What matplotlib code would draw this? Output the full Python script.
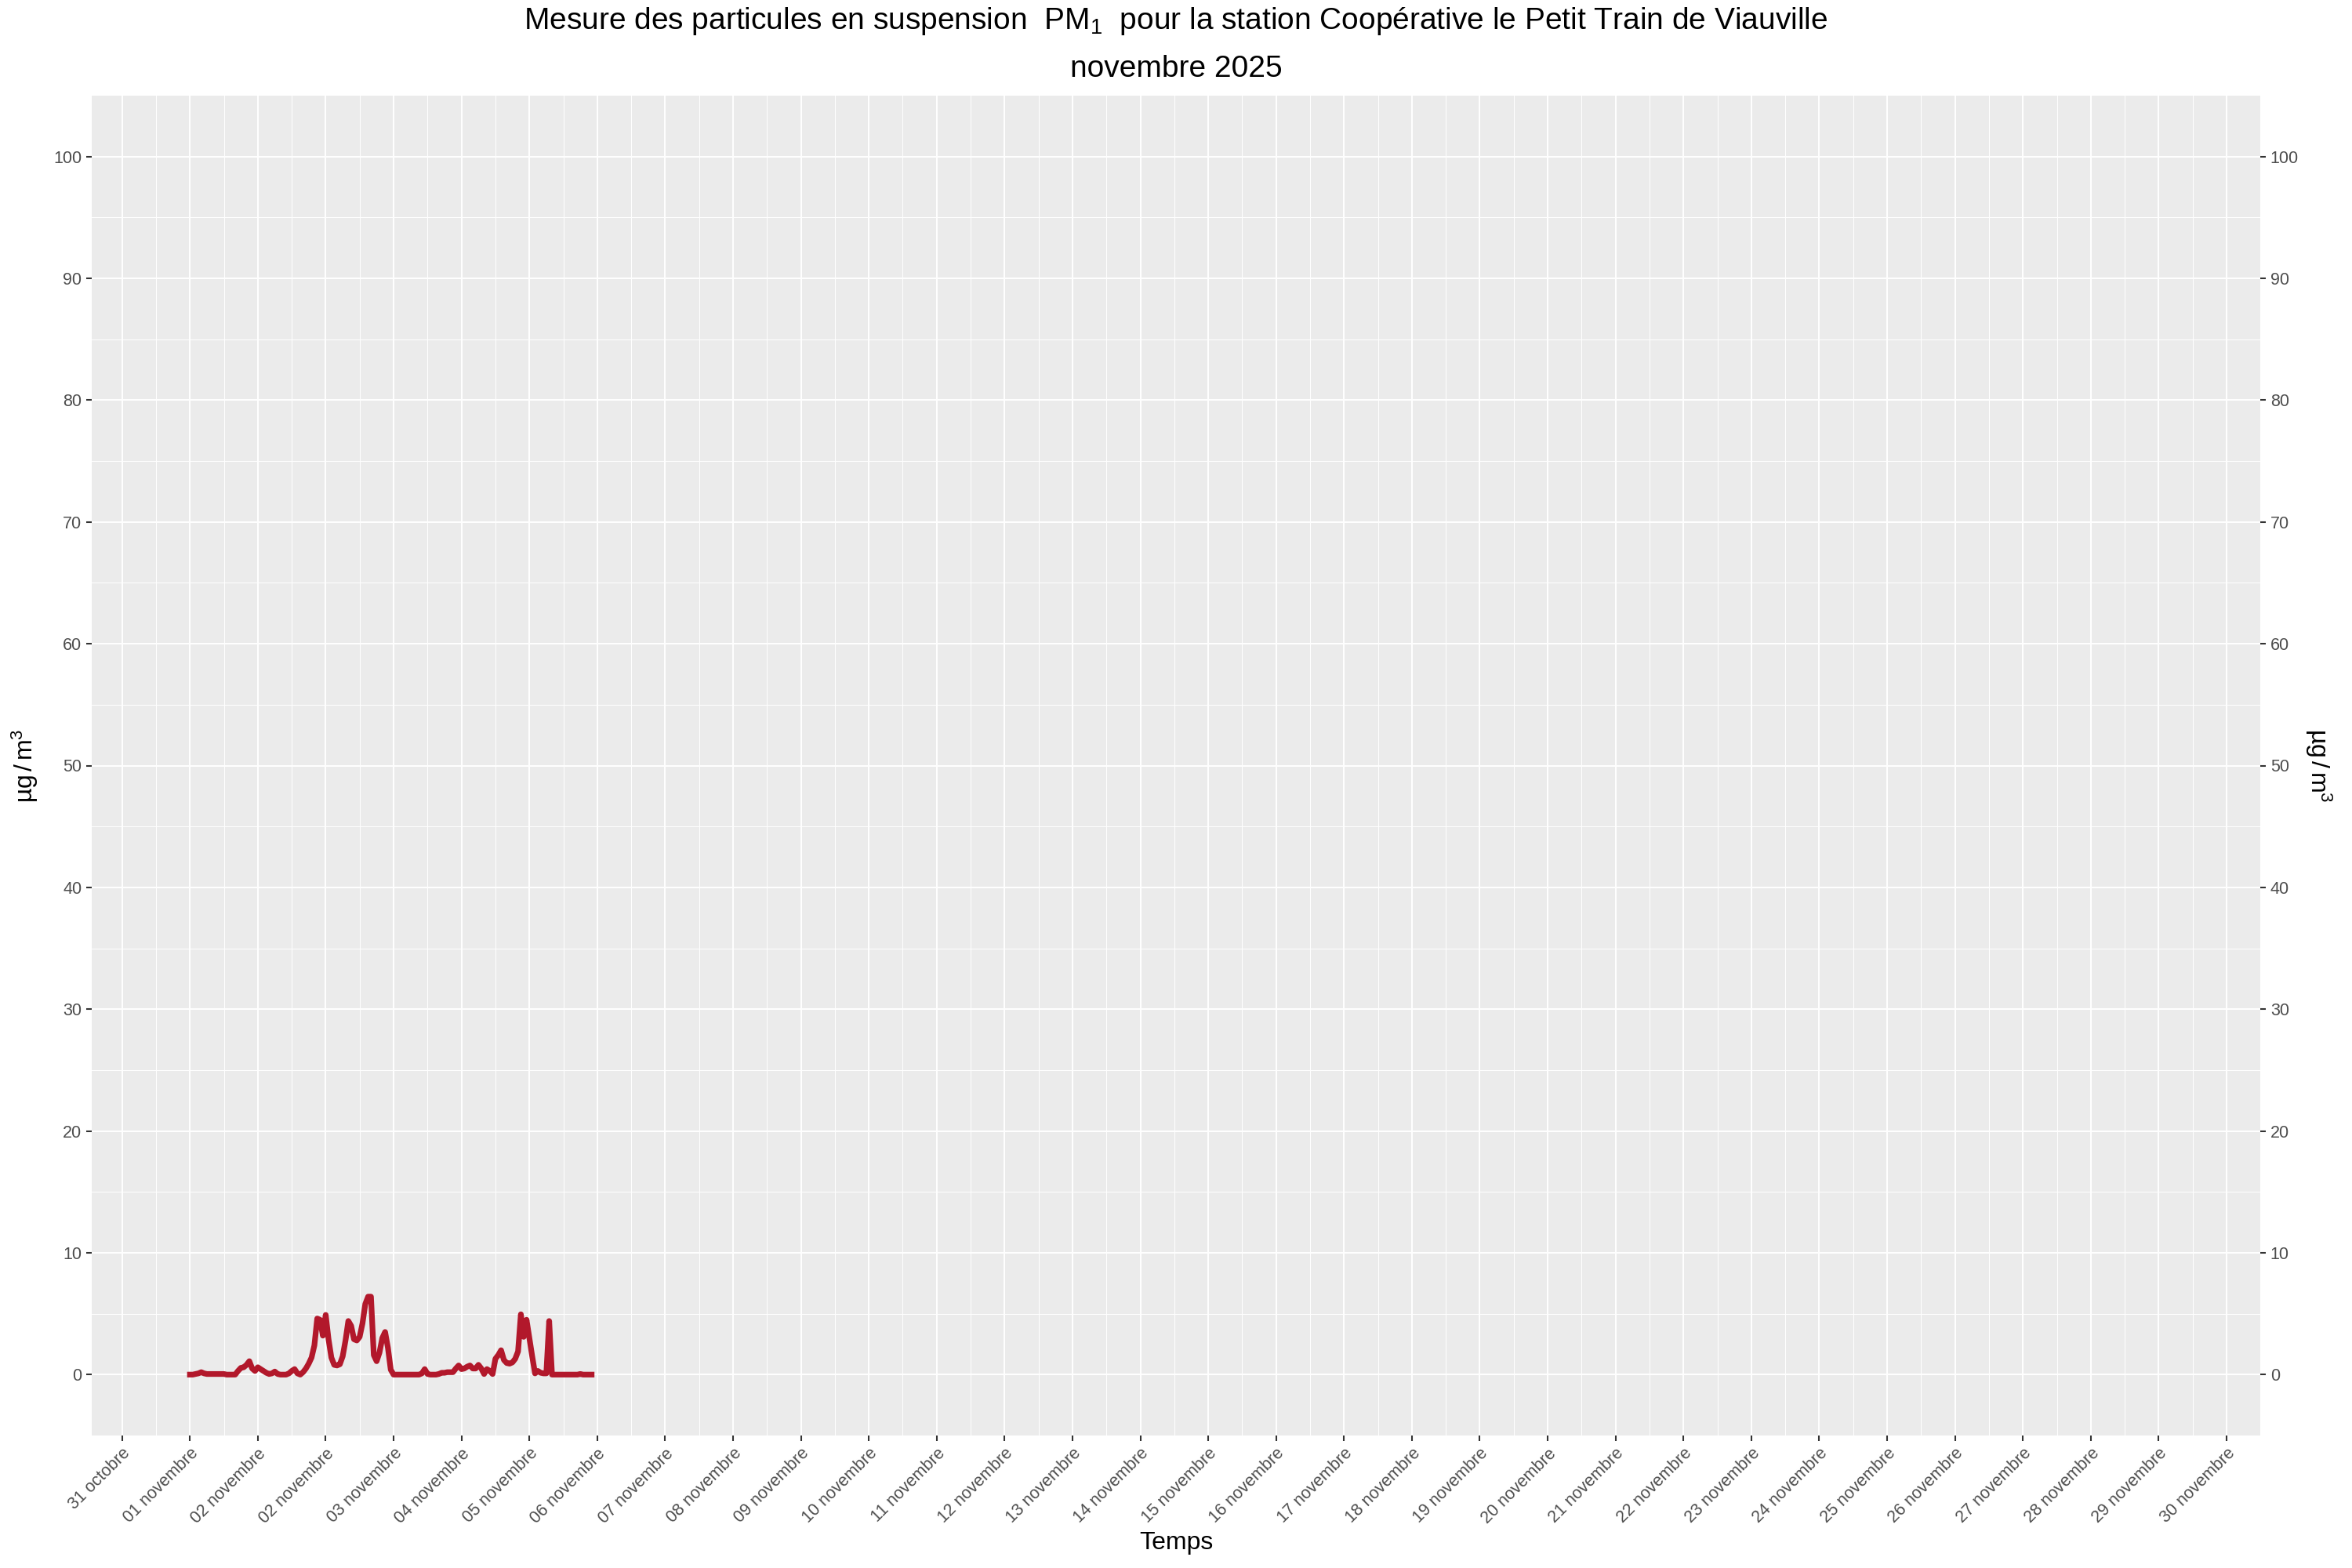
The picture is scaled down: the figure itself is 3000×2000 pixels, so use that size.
import matplotlib
matplotlib.use("Agg")
import matplotlib.pyplot as plt
import numpy as np

plt.rcParams['font.family'] = ['Liberation Sans', 'DejaVu Sans']
plt.rcParams['mathtext.fontset'] = 'custom'
plt.rcParams['mathtext.rm'] = 'Liberation Sans'
plt.rcParams['mathtext.it'] = 'Liberation Sans:italic'

# tick labels (one per day, as in the original export)
tick_labels = ['31 octobre', '01 novembre', '02 novembre', '02 novembre'] + \
    ['%02d novembre' % d for d in range(3, 31)]

# PM1 hourly values, starting 01 novembre 00h (µg/m3)
pm1 = [0, 0, 0.05, 0.1, 0.2, 0.1, 0.05, 0.05, 0.05, 0.05, 0.05, 0.05,
       0.05, 0, 0, 0, 0, 0.3, 0.55, 0.6, 0.8, 1.1, 0.5, 0.3,
       0.6, 0.45, 0.3, 0.15, 0.05, 0.1, 0.25, 0.05, 0, 0, 0, 0.1,
       0.3, 0.45, 0.1, 0, 0.2, 0.5, 0.9, 1.4, 2.4, 4.6, 4.5, 3.2,
       4.9, 2.9, 1.4, 0.8, 0.75, 0.85, 1.5, 2.8, 4.4, 4.0, 2.9, 2.8,
       3.1, 4.2, 5.8, 6.4, 6.4, 1.6, 1.1, 1.8, 3.0, 3.5, 2.2, 0.4,
       0, 0, 0, 0, 0, 0, 0, 0, 0, 0, 0.1, 0.45,
       0.05, 0, 0, 0, 0.05, 0.15, 0.15, 0.2, 0.2, 0.2, 0.5, 0.75,
       0.45, 0.5, 0.65, 0.75, 0.5, 0.5, 0.8, 0.5, 0.05, 0.45, 0.3, 0.05,
       1.3, 1.6, 2.0, 1.2, 0.95, 0.9, 1.0, 1.3, 1.9, 4.95, 3.1, 4.5,
       3.0, 1.5, 0.1, 0.3, 0.15, 0.1, 0.1, 4.4, 0, 0, 0, 0,
       0, 0, 0, 0, 0, 0, 0.05, 0, 0, 0, 0]

days = 1 + np.arange(len(pm1)) / 24.0
unit = r'µg$\,$/$\,$m$^3$'

fig = plt.figure(figsize=(30, 20), dpi=100)
ax = fig.add_axes([0.0389, 0.0845, 0.9222, 0.8545])

ax.set_facecolor('#EBEBEB')
for s in ax.spines.values():
    s.set_visible(False)

ax.plot(days, pm1, color='#B2182B', linewidth=5.2, solid_joinstyle='round', zorder=3)

ax.set_xlim(-0.45, 31.5)
ax.set_ylim(-5, 105)
ax.set_xticks(range(len(tick_labels)))
ax.set_xticks(np.arange(0.5, 31.5, 1), minor=True)
ax.set_xticklabels(tick_labels, rotation=45, ha='right', rotation_mode='anchor')
ax.set_yticks(range(0, 101, 10))
ax.set_yticks(range(5, 101, 10), minor=True)

ax.grid(which='major', color='white', linewidth=1.4)
ax.grid(which='minor', color='white', linewidth=0.7)
ax.set_axisbelow(True)

ax.tick_params(which='major', length=5, width=1.5, color='#333333',
               labelsize=15.5, labelcolor='#4D4D4D', pad=4)
ax.tick_params(which='minor', length=0)

ax.set_xlabel('Temps', fontsize=23, labelpad=4)
ax.set_ylabel(unit, fontsize=23, labelpad=12)

ax2 = ax.twinx()
for s in ax2.spines.values():
    s.set_visible(False)
ax2.set_ylim(ax.get_ylim())
ax2.set_yticks(range(0, 101, 10))
ax2.tick_params(length=5, width=1.5, color='#333333', labelsize=15.5,
                labelcolor='#4D4D4D', pad=4)
ax2.set_ylabel(unit, fontsize=23, rotation=270, labelpad=32)

fig.text(0.5, 0.9865, 'Mesure des particules en suspension  PM$_1$  pour la station Coopérative le Petit Train de Viauville',
         ha='center', va='center', fontsize=28)
fig.text(0.5, 0.956, 'novembre 2025', ha='center', va='center', fontsize=28)

fig.savefig('out.png', dpi=100)
